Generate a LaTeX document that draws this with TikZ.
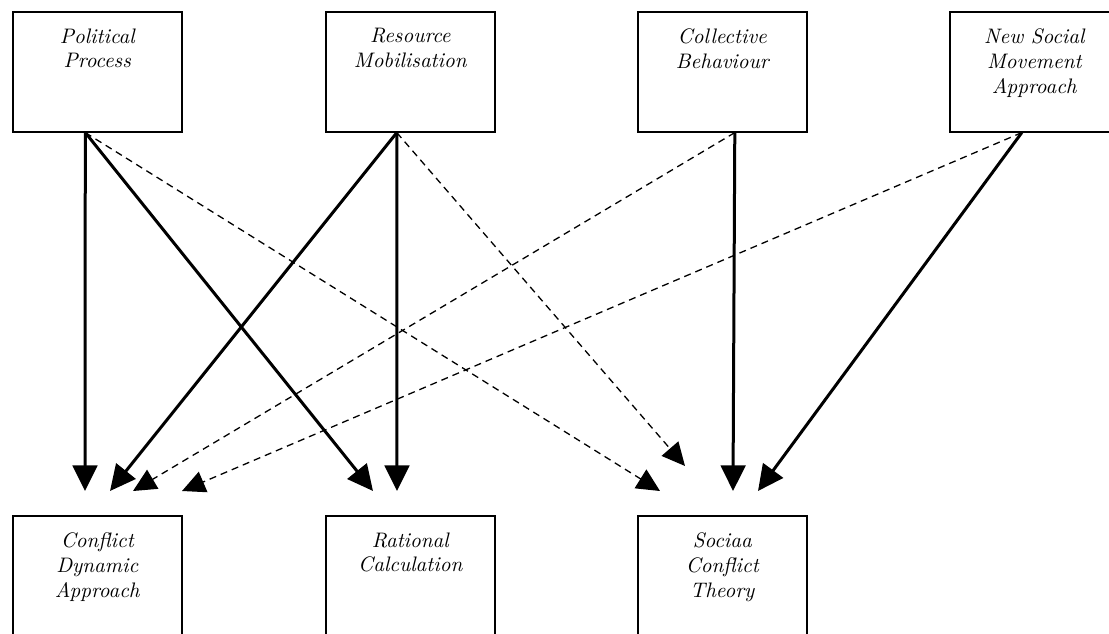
\documentclass[tikz,border=0pt]{standalone}
\usetikzlibrary{arrows.meta}

\tikzset{
  box/.style={draw, line width=0.8pt, minimum width=84.5pt, minimum height=60pt, inner sep=0pt, anchor=north west},
  lbl/.style={anchor=north, align=center, inner sep=0pt, yshift=-8.6pt, font=\fontsize{10.5}{12.4}\selectfont\itshape},
  strong/.style={line width=1.5pt, -{Triangle[length=12.8pt,width=12.3pt]}},
  weak/.style={line width=0.65pt, dash pattern=on 3.5pt off 2.5pt, -{Triangle[length=11.5pt,width=11pt]}},
}

\begin{document}
\begin{tikzpicture}[x=0.5pt, y=-0.5pt]
  \useasboundingbox (0,0) rectangle (1109,633);

  % Approaches (top row)
  \node[box] (pp) at (12,11) {};
  \node[box] (rm) at (325,11) {};
  \node[box] (cb) at (637,11) {};
  \node[box] (ns) at (949,11) {};
  \node[lbl] (pp-t) at (pp.north) {Political\\Process};
  \node[lbl] (rm-t) at (rm.north) {Resource\\Mobilisation};
  \node[lbl] (cb-t) at (cb.north) {Collective\\Behaviour};
  \node[lbl] (ns-t) at (ns.north) {New Social\\Movement\\Approach};

  % Theories (bottom row)
  \node[box, minimum height=65pt] (cd) at (12,515) {};
  \node[box, minimum height=65pt] (rc) at (325,515) {};
  \node[box, minimum height=65pt] (sc) at (637,515) {};
  \node[lbl] (cd-t) at (cd.north) {Conflict\\Dynamic\\Approach};
  \node[lbl] (rc-t) at (rc.north) {Rational\\Calculation};
  \node[lbl] (sc-t) at (sc.north) {Sociaa\\Conflict\\Theory};

  % Start points under the upper boxes
  \coordinate (pp-o) at ([xshift=-6pt]pp.south);
  \coordinate (rm-o) at ([xshift=-6.75pt]rm.south);
  \coordinate (cb-o) at ([xshift=6.25pt]cb.south);
  \coordinate (ns-o) at ([xshift=-6.25pt]ns.south);

  % Arrow ends above the lower boxes
  \coordinate (cd-a) at (85,491);
  \coordinate (cd-b) at (110,491);
  \coordinate (cd-c) at (133,491);
  \coordinate (cd-d) at (182,491);
  \coordinate (rc-a) at (373,491);
  \coordinate (rc-b) at (397,491);
  \coordinate (sc-a) at (660,491);
  \coordinate (sc-b) at (685,466);
  \coordinate (sc-c) at (733,491);
  \coordinate (sc-d) at (758,491);

  % Solid links
  \draw[strong] (pp-o) -- (cd-a);
  \draw[strong] (pp-o) -- (rc-a);
  \draw[strong] (rm-o) -- (cd-b);
  \draw[strong] (rm-o) -- (rc-b);
  \draw[strong] (cb-o) -- (sc-c);
  \draw[strong] (ns-o) -- (sc-d);

  % Dashed links
  \draw[weak] (pp-o) -- (sc-a);
  \draw[weak] (rm-o) -- (sc-b);
  \draw[weak] (cb-o) -- (cd-c);
  \draw[weak] (ns-o) -- (cd-d);
\end{tikzpicture}
\end{document}
